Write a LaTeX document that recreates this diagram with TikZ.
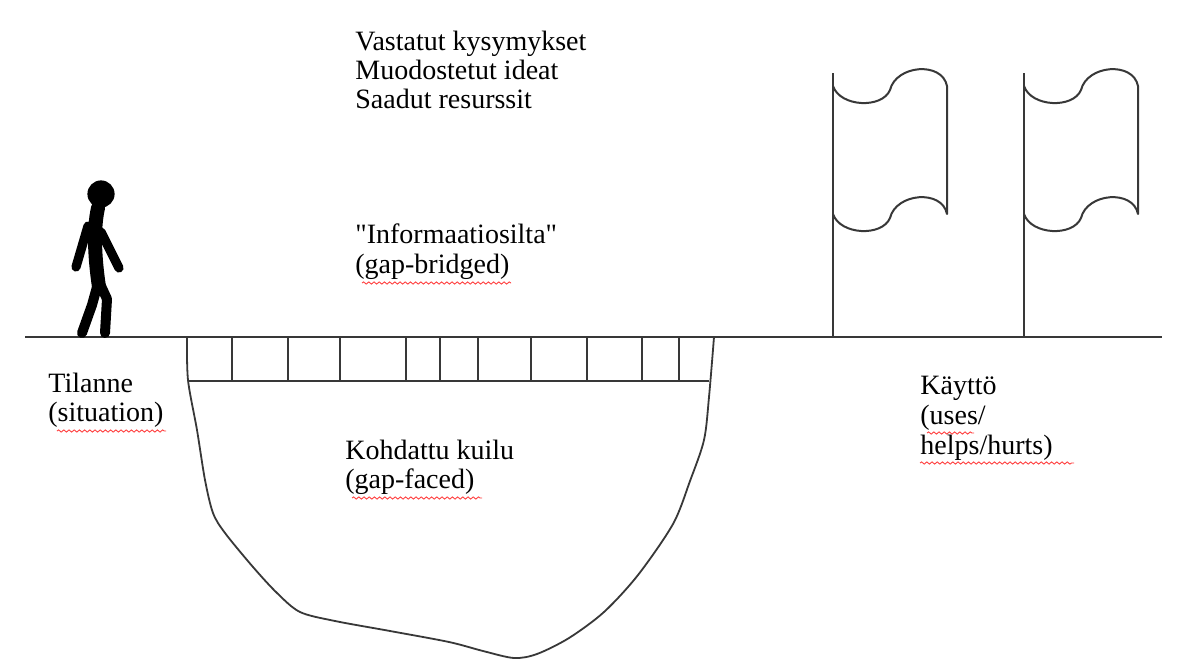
\documentclass[tikz,border=0pt]{standalone}
\usepackage{fontspec}
\setmainfont{Liberation Serif}
% same face without the TeX input mapping, for straight quotes
\newfontfamily\straightq{Liberation Serif}
\usetikzlibrary{decorations.pathmorphing}
\newcommand{\sq}{{\straightq"}}
\begin{document}
\begin{tikzpicture}[x=0.5pt,y=-0.5pt,
  ink/.style={draw=black!78, line width=1pt, line join=round},
  txt/.style={anchor=base west, inner sep=0pt, align=left,
    font=\fontsize{14}{15}\selectfont, text=black},
  spell/.style={draw=red!75, line width=0.45pt, decorate,
    decoration={snake, amplitude=0.55pt, segment length=2.6pt}},
  stick/.style={draw=black, line width=5pt, line cap=round, line join=round},
  flag/.pic={
    \draw[ink] (0,0) -- (0,-264);
    \draw[ink] (0,-251) .. controls (7,-230) and (49,-228) .. (57,-247)
      .. controls (63,-272) and (109,-276) .. (114,-251) -- (114,-123)
      .. controls (109,-148) and (63,-144) .. (57,-119)
      .. controls (49,-100) and (7,-102) .. (0,-123);
  }]
\useasboundingbox (0,0) rectangle (1188,668);
\fill[white] (0,0) rectangle (1188,668);

% ground line
\draw[ink, line width=1.3pt] (25,337) -- (1162,337);

% the chasm
\draw[ink, line width=0.9pt] plot[smooth, tension=0.5] coordinates {
  (187,337) (188,380) (197,430) (205,480) (213,513) (225,533) (253,567)
  (277,593) (300,612) (335,621) (390,631) (449,642) (483,651) (514,658)
  (537,654) (569,638) (604,612) (638,575) (673,524) (690,481) (704,440)
  (709,397) (714,337)};

% the bridge
\draw[ink] (189,381) -- (709,381);
\foreach \bx in {232,288,340,406,440,478,531,587,642,679}
  \draw[ink] (\bx,337) -- (\bx,381);

% flags
\pic at (833,337) {flag};
\pic at (1024,337) {flag};

% walking figure
\fill (101,194) circle[radius=6.8pt];
\draw[stick, line width=7pt] (98,208) .. controls (93,230) and (95,260) .. (99,287);
\draw[stick, line width=4.6pt] (88,226) -- (76,267);
\draw[stick, line width=4.6pt] (101,232) -- (119,268);
\draw[stick] (97,287) -- (92,305) -- (82,333);
\draw[stick] (101,286) -- (107,299) -- (105,333);

% texts
\node[txt] (q1) at (355,51) {Vastatut kysymykset};
\node[txt] (q2) at (355,80) {Muodostetut ideat};
\node[txt] (q3) at (355,109) {Saadut resurssit};
\node[txt] (b1) at (355,244) {\sq Informaatiosilta\sq};
\node[txt] (b2) at (355,273) {(gap-bridged)};
\node[txt] (s1) at (48,392) {Tilanne};
\node[txt] (s2) at (48,421) {(situation)};
\node[txt] (g1) at (345,459) {Kohdattu kuilu};
\node[txt] (g2) at (345,488) {(gap-faced)};
\node[txt] (u1) at (920,394) {Käyttö};
\node[txt] (u2) at (920,424) {(uses/};
\node[txt] (u3) at (920,454) {helps/hurts)};

% spelling marks
\draw[spell] (362,283) -- (511,283);
\draw[spell] (57,431) -- (166,431);
\draw[spell] (352,498) -- (482,498);
\draw[spell] (927,433) -- (974,433);
\draw[spell] (920,463) -- (1074,463);
\end{tikzpicture}
\end{document}
